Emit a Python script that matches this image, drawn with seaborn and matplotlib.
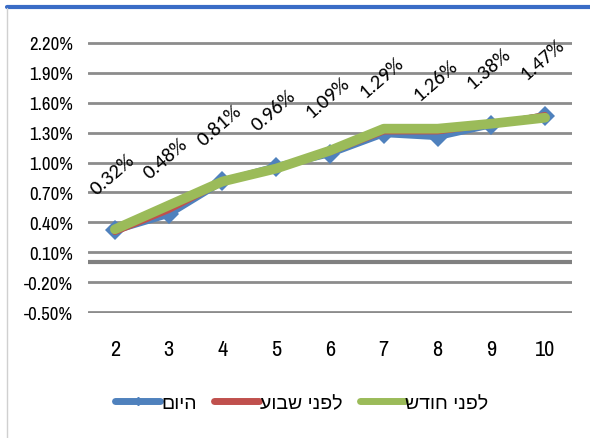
import matplotlib
matplotlib.use("Agg")
import matplotlib.pyplot as plt
import numpy as np
import pandas as pd
import seaborn as sns
from matplotlib import font_manager
from matplotlib.lines import Line2D

# data
periods = [2, 3, 4, 5, 6, 7, 8, 9, 10]
today = [0.32, 0.48, 0.81, 0.96, 1.09, 1.29, 1.26, 1.38, 1.47]
week_ago = [0.30, 0.52, 0.80, 0.95, 1.10, 1.31, 1.31, 1.38, 1.48]
month_ago = [0.33, 0.57, 0.81, 0.94, 1.12, 1.34, 1.34, 1.39, 1.45]
series_names = ["היום", "לפני שבוע", "לפני חודש"]
y_ticks = [-0.5, -0.2, 0.1, 0.4, 0.7, 1.0, 1.3, 1.6, 1.9, 2.2]

df = pd.DataFrame({
    "period": periods * 3,
    "value": today + week_ago + month_ago,
    "series": np.repeat(series_names, len(periods)),
})

sns.set_theme(style="white")
installed = {f.name for f in font_manager.fontManager.ttflist}


def first_of(names, default):
    for n in names:
        if n in installed:
            return n
    return default


narrow = first_of(["Liberation Sans Narrow", "Arial Narrow", "Archivo Narrow",
                   "PT Sans Narrow", "Roboto Condensed", "Open Sans Condensed",
                   "Fira Sans Condensed"], "Liberation Sans")
hebrew = first_of(["Arimo", "Liberation Sans", "Noto Sans Hebrew"], "DejaVu Sans")
calibri_like = first_of(["Carlito", "Lato"], "DejaVu Sans")
plt.rcParams["font.family"] = [narrow, hebrew, "DejaVu Sans"]
plt.rcParams["text.color"] = "black"


def rtl(s):
    # matplotlib has no bidi support, so reverse Hebrew for display
    return s[::-1]


fig = plt.figure(figsize=(5.9, 4.39), dpi=100)
ax = fig.add_axes([88 / 590, 1 - 314 / 439, (572 - 88) / 590, (314 - 43) / 439])

colors = {"היום": "#4F81BD", "לפני שבוע": "#C0504D", "לפני חודש": "#9BBB59"}
widths = {"היום": 5, "לפני שבוע": 4, "לפני חודש": 7}

for name in series_names:
    sub = df[df["series"] == name]
    sns.lineplot(
        data=sub, x="period", y="value", ax=ax, color=colors[name],
        linewidth=widths[name], marker="D" if name == "היום" else None,
        markersize=10, markeredgewidth=0, legend=False, zorder=3,
    )

# data labels for today's values
for x, v in zip(periods, today):
    ax.annotate(f"{v:.2f}%", (x, v), xytext=(-2, 41), textcoords="offset points",
                ha="center", va="center", rotation=41, fontsize=15,
                family=[calibri_like, "DejaVu Sans"], color="black")

ax.set_xlim(1.5, 10.5)
ax.set_ylim(-0.51, 2.21)
ax.set_yticks(y_ticks)
ax.set_yticklabels([f"{t:.2f}%" for t in y_ticks])
ax.set_xticks(periods)
ax.set_xticklabels([str(p) for p in periods])
for t in y_ticks:
    ax.axhline(t, color="#8c8c8c", linewidth=2, zorder=1)
ax.axhline(0, color="#808080", linewidth=3, zorder=1)
ax.tick_params(axis="y", length=0, labelsize=13.5, colors="black", pad=11)
ax.tick_params(axis="x", length=0, labelsize=16, colors="black", pad=19)
ax.set_xlabel("")
ax.set_ylabel("")
for s in ax.spines.values():
    s.set_visible(False)

handles = [
    Line2D([], [], color=colors["היום"], linewidth=5, marker="D", markersize=4,
           solid_capstyle="round"),
    Line2D([], [], color=colors["לפני שבוע"], linewidth=5, solid_capstyle="round"),
    Line2D([], [], color=colors["לפני חודש"], linewidth=5, solid_capstyle="round"),
]
fig.legend(handles, [rtl(n) for n in series_names], loc="center",
           bbox_to_anchor=(302 / 590, 1 - 404 / 439), ncol=3, frameon=False,
           prop={"family": [hebrew, "DejaVu Sans"], "size": 14},
           labelcolor="black",
           handlelength=2.3, handletextpad=0.05, columnspacing=0.9)

# frame pieces of the surrounding card
fig.add_artist(Line2D([7 / 590, 1], [1 - 8 / 439, 1 - 8 / 439], color="#3A6CC6",
                      linewidth=3, transform=fig.transFigure))
fig.add_artist(Line2D([7 / 590, 7 / 590], [0, 1 - 9 / 439], color="#d0d0d0",
                      linewidth=1, transform=fig.transFigure))

fig.savefig("out.png", dpi=100)
